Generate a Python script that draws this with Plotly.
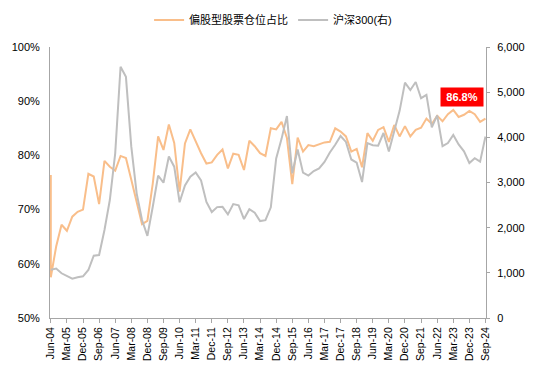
import plotly.graph_objects as go
import pandas as pd

# Quarter-end categories Jun-04 .. Sep-24
quarters = [d.strftime("%b-%y") for d in pd.date_range("2004-06-30", "2024-09-30", freq="QE")]
tick_labels = quarters[::3]

# Equity-fund stock position (%); first entry is the opening value plotted at Jun-04
equity_x = [quarters[0]] + quarters
equity_position = [76.4, 57.5, 63.2, 67.2, 66.1, 68.7, 69.6, 70.0, 76.6, 76.1, 71.0,
                   79.0, 77.9, 77.2, 79.9, 79.5, 75.5, 71.5, 67.3, 67.9, 74.8,
                   83.5, 81.0, 85.7, 82.3, 73.3, 82.2, 84.8, 82.5, 80.4, 78.5,
                   78.7, 80.1, 81.1, 77.6, 80.3, 80.1, 77.3, 82.7, 81.7, 80.4,
                   79.9, 85.0, 84.8, 86.2, 83.2, 74.7, 83.3, 80.7, 81.9, 81.7,
                   82.1, 82.4, 82.5, 85.0, 84.4, 83.5, 80.7, 81.2, 77.8, 84.1,
                   82.7, 84.7, 85.2, 82.5, 85.6, 83.5, 85.4, 83.5, 84.7, 85.1,
                   86.8, 85.8, 87.3, 86.3, 87.6, 88.4, 87.1, 87.5, 88.2, 87.6,
                   86.2, 86.8]

# CSI 300 index (right axis)
csi300 = [1070, 1095, 990, 930, 870, 900, 923, 1063, 1380, 1395,
          1948, 2612, 3645, 5563, 5338, 3793, 2760, 2170, 1817, 2464,
          3150, 2996, 3575, 3350, 2563, 2935, 3128, 3222, 3044, 2570,
          2346, 2455, 2462, 2293, 2522, 2495, 2190, 2409, 2331, 2146,
          2165, 2450, 3533, 3966, 4473, 3203, 3731, 3218, 3154, 3253,
          3310, 3456, 3666, 3837, 4030, 3899, 3510, 3438, 3011, 3872,
          3825, 3814, 4096, 3686, 4163, 4587, 5211, 5048, 5224, 4866,
          4940, 4222, 4485, 3804, 3872, 4051, 3842, 3690, 3431, 3537,
          3462, 4017]

FONT = "Liberation Sans, Arial, Noto Sans CJK SC, sans-serif"
AXIS = "#A6A6A6"

fig = go.Figure()
fig.add_trace(go.Scatter(x=equity_x, y=equity_position, name="偏股型股票仓位占比",
                         mode="lines", line=dict(color="#F9BE8A", width=2)))
fig.add_trace(go.Scatter(x=quarters, y=csi300, name="沪深300(右)", yaxis="y2",
                         mode="lines", line=dict(color="#BFBFBF", width=2)))

fig.add_annotation(x=quarters[-1], y=equity_position[-1], xref="x", yref="y",
                   text=f"<b>{equity_position[-1]:.1f}%</b>", showarrow=False,
                   xshift=-23, yshift=22, bgcolor="#FF0000", width=40, height=16,
                   font=dict(color="white", size=11, family=FONT))

# page body has an 8px default margin, so the figure is sized 541x364
fig.update_layout(
    width=541, height=364,
    margin=dict(l=42, r=63, t=39, b=54, autoexpand=False),
    paper_bgcolor="white", plot_bgcolor="white",
    font=dict(family=FONT, size=11, color="#000000"),
    showlegend=True,
    legend=dict(orientation="h", x=0.49, xanchor="center", xref="container",
                y=0.967, yanchor="middle", yref="container",
                font=dict(size=11), bgcolor="rgba(0,0,0,0)"),
    xaxis=dict(type="category", categoryorder="array", categoryarray=quarters,
               range=[-0.15, 81.1], tickmode="array", tickvals=tick_labels,
               ticktext=tick_labels, tickangle=-90, ticks="outside", ticklen=4,
               tickcolor=AXIS, showline=True, linecolor=AXIS, linewidth=1,
               showgrid=False, zeroline=False, tickfont=dict(size=10.5),
               automargin=False),
    yaxis=dict(range=[50, 100], dtick=10, ticksuffix="%", showline=True,
               linecolor=AXIS, showgrid=False, zeroline=False, ticks="",
               ticklabelstandoff=7, tickfont=dict(size=11), automargin=False),
    yaxis2=dict(overlaying="y", side="right", range=[0, 6000], dtick=1000,
                tickformat=",", showline=True, linecolor=AXIS, showgrid=False,
                zeroline=False, ticks="outside", ticklen=3, tickcolor=AXIS,
                ticklabelstandoff=5, tickfont=dict(size=11), automargin=False),
)

fig.write_html("out.html")
